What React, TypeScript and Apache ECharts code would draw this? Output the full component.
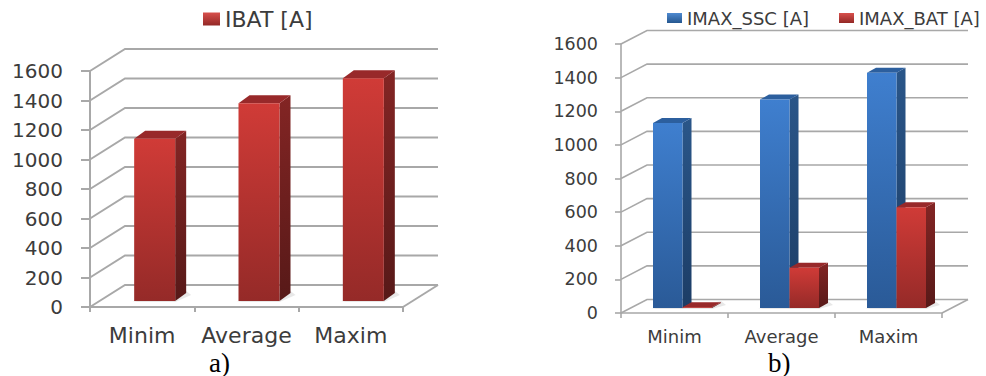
import React, { useEffect, useRef } from "react";
import * as echarts from "echarts";

const categories = ["Minim", "Average", "Maxim"];
const yTicks = [0, 200, 400, 600, 800, 1000, 1200, 1400, 1600];
const ibat = [1100, 1340, 1510];
const imaxSsc = [1100, 1240, 1400];
const imaxBat = [5, 240, 600];

const FONT = "DejaVu Sans";
const GREY = "#a8a8a8";
const TEXT = "#3c3c3c";

const vertical = (top: string, bottom: string) =>
  new echarts.graphic.LinearGradient(0, 0, 0, 1, [
    { offset: 0, color: top },
    { offset: 1, color: bottom },
  ]);

const RED = {
  legend: vertical("#d8504c", "#932826"),
  front: vertical("#d03b37", "#952a28"),
  side: vertical("#832524", "#571918"),
  top: "#98292a",
};
const BLUE = {
  legend: vertical("#4f8ad0", "#25578f"),
  front: vertical("#3f7fcf", "#2a5a97"),
  side: vertical("#2a5689", "#1c3d66"),
  top: "#2c5f9e",
};

type Box = {
  left: number;
  right: number;
  top: number;
  bottom: number;
  wallDx: number;
  wallDy: number;
  barDx: number;
  barDy: number;
  barWidth: number;
  groupShift: number;
  planeDy: number;
  wallWidth: number;
};

const boxA: Box = {
  left: 90, right: 403, top: 71, bottom: 307,
  wallDx: 35, wallDy: 22,
  barWidth: 41, barDx: 11, barDy: 8,
  groupShift: -8, planeDy: 6, wallWidth: 2,
};
const boxB: Box = {
  left: 621, right: 942, top: 44, bottom: 313,
  wallDx: 26, wallDy: 13.5,
  barWidth: 29.5, barDx: 9, barDy: 5,
  groupShift: -21.5, planeDy: 5, wallWidth: 1.6,
};

// Side wall, back wall and floor of the box, one polyline per y tick.
function wallSeries(box: Box, gridIndex: number) {
  return {
    type: "custom",
    name: "walls",
    silent: true,
    z: 1,
    xAxisIndex: gridIndex,
    yAxisIndex: gridIndex,
    data: yTicks.map((t) => [0, t]),
    encode: { x: 0, y: 1 },
    renderItem: (_: any, api: any) => {
      const y = api.coord([0, api.value(1)])[1];
      const style = { stroke: GREY, lineWidth: box.wallWidth, fill: "none" };
      const backY = y - box.wallDy;
      const children: any[] = [
        {
          type: "polyline",
          shape: {
            points: [
              [box.left, y],
              [box.left + box.wallDx, backY],
              [box.right + box.wallDx, backY],
            ],
          },
          style,
        },
      ];
      if (api.value(1) === 0) {
        children.push({
          type: "polyline",
          shape: {
            points: [
              [box.right, y],
              [box.right + box.wallDx, backY],
            ],
          },
          style,
        });
      }
      return { type: "group", children };
    },
  };
}

// A bar with front, side and top faces, plus a soft shadow on the floor.
function barSeries(
  name: string,
  values: number[],
  colors: typeof RED,
  box: Box,
  gridIndex: number,
  slot: number,
) {
  return {
    type: "custom",
    name,
    z: 3 + slot,
    xAxisIndex: gridIndex,
    yAxisIndex: gridIndex,
    itemStyle: { color: colors.legend },
    data: values.map((v, i) => [i, v]),
    encode: { x: 0, y: 1 },
    renderItem: (_: any, api: any) => {
      const top = api.coord([api.value(0), api.value(1)]);
      const zero = api.coord([api.value(0), 0]);
      const x0 = top[0] + box.groupShift + slot * box.barWidth;
      const x1 = x0 + box.barWidth;
      const yb = zero[1] - box.planeDy;
      const yt = top[1] - box.planeDy;
      const { barDx: dx, barDy: dy } = box;
      return {
        type: "group",
        children: [
          {
            type: "polygon",
            shape: {
              points: [
                [x0 - 2, yb + 1],
                [x1, yb + 1],
                [x1 + dx + 5, yb - dy + 2],
                [x1 + dx, yb - dy - 2],
              ],
            },
            style: { fill: "rgba(190,190,190,0.35)" },
          },
          {
            type: "polygon",
            shape: { points: [[x1, yt], [x1 + dx, yt - dy], [x1 + dx, yb - dy], [x1, yb]] },
            style: { fill: colors.side },
          },
          {
            type: "polygon",
            shape: { points: [[x0, yt], [x0 + dx, yt - dy], [x1 + dx, yt - dy], [x1, yt]] },
            style: { fill: colors.top },
          },
          {
            type: "rect",
            shape: { x: x0, y: yt, width: box.barWidth, height: Math.max(yb - yt, 0.5) },
            style: { fill: colors.front },
          },
        ],
      };
    },
  };
}

function axesFor(box: Box, gridIndex: number, yFont: number, xFont: number, xMargin: number, yMargin: number, tick: number) {
  const line = { lineStyle: { color: GREY, width: box.wallWidth } };
  return {
    xAxis: {
      type: "category",
      gridIndex,
      data: categories,
      axisLine: { show: true, ...line },
      axisTick: { show: true, length: 5, alignWithLabel: false, ...line },
      splitLine: { show: false },
      axisLabel: { fontFamily: FONT, fontSize: xFont, color: TEXT, margin: xMargin, interval: 0, hideOverlap: false },
    },
    yAxis: {
      type: "value",
      gridIndex,
      min: 0,
      max: 1600,
      interval: 200,
      axisLine: { show: true, ...line },
      axisTick: { show: true, length: tick, ...line },
      splitLine: { show: false },
      axisLabel: {
        fontFamily: FONT,
        fontSize: yFont,
        color: TEXT,
        margin: yMargin,
        formatter: (v: number) => String(v),
      },
    },
  };
}

const gridOf = (b: Box) => ({
  left: b.left,
  top: b.top,
  width: b.right - b.left,
  height: b.bottom - b.top,
  containLabel: false,
});

export default function App() {
  const ref = useRef<HTMLDivElement>(null);

  useEffect(() => {
    const chart = echarts.init(ref.current!, null, { renderer: "svg" });
    const a = axesFor(boxA, 0, 20, 22, 17, 27, 9);
    const b = axesFor(boxB, 1, 17.5, 18, 14, 23, 6);
    chart.setOption({
      animation: false,
      backgroundColor: "#ffffff",
      grid: [gridOf(boxA), gridOf(boxB)],
      xAxis: [a.xAxis, b.xAxis],
      yAxis: [a.yAxis, b.yAxis],
      legend: [
        {
          data: ["IBAT [A]"],
          left: 198,
          top: 3,
          icon: "rect",
          itemWidth: 17,
          itemHeight: 13,
          textStyle: { fontFamily: FONT, fontSize: 22, color: TEXT },
        },
        {
          data: ["IMAX_SSC [A]", "IMAX_BAT [A]"],
          left: 662,
          top: 4,
          icon: "rect",
          itemWidth: 15,
          itemHeight: 10,
          itemGap: 30,
          textStyle: { fontFamily: FONT, fontSize: 18, color: TEXT },
        },
      ],
      graphic: [
        {
          type: "text",
          left: 209,
          top: 349,
          style: { text: "a)", font: "27px 'Liberation Serif'", fill: "#000" },
        },
        {
          type: "text",
          left: 768,
          top: 349,
          style: { text: "b)", font: "27px 'Liberation Serif'", fill: "#000" },
        },
      ],
      series: [
        wallSeries(boxA, 0),
        wallSeries(boxB, 1),
        barSeries("IBAT [A]", ibat, RED, boxA, 0, 0),
        barSeries("IMAX_SSC [A]", imaxSsc, BLUE, boxB, 1, 0),
        barSeries("IMAX_BAT [A]", imaxBat, RED, boxB, 1, 1),
      ],
    });
    return () => chart.dispose();
  }, []);

  return (
    <div
      ref={ref}
      style={{ position: "fixed", left: 0, top: 0, width: 986, height: 376, background: "#fff" }}
    />
  );
}
